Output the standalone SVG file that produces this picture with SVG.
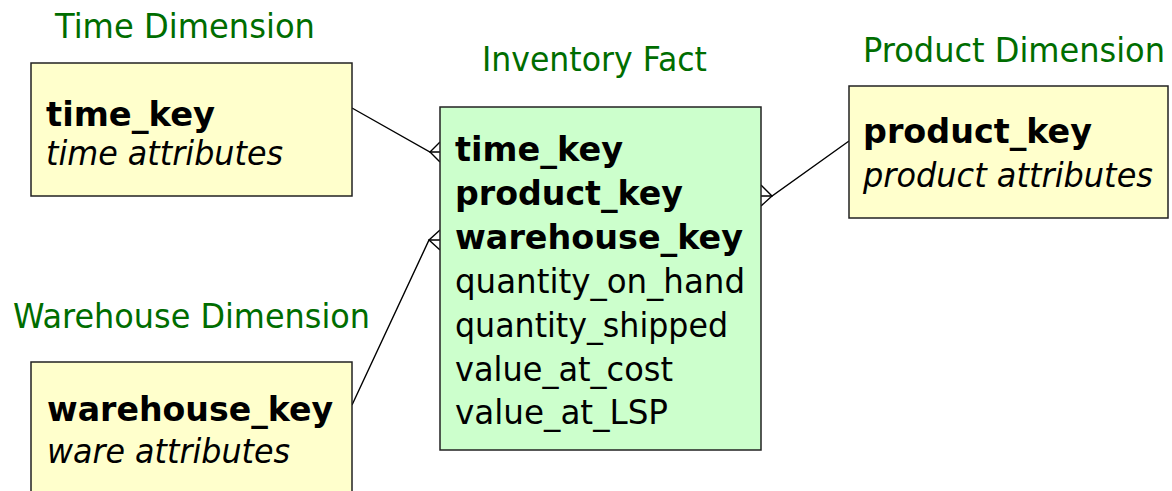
<svg xmlns="http://www.w3.org/2000/svg" width="1172" height="491" viewBox="0 0 1172 491">
<style>
.title{font-family:"DejaVu Sans",Verdana,sans-serif;font-size:33px;fill:#006d00}
.key{font-family:"DejaVu Sans",Verdana,sans-serif;font-size:33.5px;font-weight:bold;fill:#000}
.attr{font-family:"DejaVu Sans",Verdana,sans-serif;font-size:33.5px;font-style:italic;fill:#000}
.reg{font-family:"DejaVu Sans",Verdana,sans-serif;font-size:34px;fill:#000}
.dim{fill:#ffffcc;stroke:#222;stroke-width:1.5}
.fact{fill:#ccffcc;stroke:#222;stroke-width:1.5}
.conn{fill:none;stroke:#000;stroke-width:1.4}
</style>
<rect width="1172" height="491" fill="#fff"/>
<g id="connectors">
  <polyline class="conn" points="352,108 430,152 440,152"/>
  <polyline class="conn" points="440,142 430,152 440,162"/>
  <polyline class="conn" points="849,141 772,196 761,196"/>
  <polyline class="conn" points="761,185 772,196 761,206"/>
  <polyline class="conn" points="352,405 429,240 440,240"/>
  <polyline class="conn" points="440,230 429,240 440,250"/>
</g>
<g id="time-dimension">
  <text class="title" x="55" y="38" textLength="260" lengthAdjust="spacingAndGlyphs">Time Dimension</text>
  <rect class="dim" x="31" y="63" width="321" height="133"/>
  <text class="key" x="46" y="126" textLength="169" lengthAdjust="spacingAndGlyphs">time_key</text>
  <text class="attr" x="46" y="165" textLength="237" lengthAdjust="spacingAndGlyphs">time attributes</text>
</g>
<g id="inventory-fact">
  <text class="title" x="482" y="71" textLength="225" lengthAdjust="spacingAndGlyphs">Inventory Fact</text>
  <rect class="fact" x="440" y="107" width="321" height="343"/>
  <text class="key" x="455" y="161" textLength="168" lengthAdjust="spacingAndGlyphs">time_key</text>
  <text class="key" x="455" y="205" textLength="228" lengthAdjust="spacingAndGlyphs">product_key</text>
  <text class="key" x="455" y="249" textLength="288" lengthAdjust="spacingAndGlyphs">warehouse_key</text>
  <text class="reg" x="455" y="293" textLength="290" lengthAdjust="spacingAndGlyphs">quantity_on_hand</text>
  <text class="reg" x="455" y="337" textLength="273" lengthAdjust="spacingAndGlyphs">quantity_shipped</text>
  <text class="reg" x="455" y="381" textLength="218" lengthAdjust="spacingAndGlyphs">value_at_cost</text>
  <text class="reg" x="455" y="424" textLength="213" lengthAdjust="spacingAndGlyphs">value_at_LSP</text>
</g>
<g id="product-dimension">
  <text class="title" x="863" y="62" textLength="302" lengthAdjust="spacingAndGlyphs">Product Dimension</text>
  <rect class="dim" x="849" y="86" width="319" height="132"/>
  <text class="key" x="863" y="143" textLength="229" lengthAdjust="spacingAndGlyphs">product_key</text>
  <text class="attr" x="863" y="187" textLength="290" lengthAdjust="spacingAndGlyphs">product attributes</text>
</g>
<g id="warehouse-dimension">
  <text class="title" x="13" y="328" textLength="357" lengthAdjust="spacingAndGlyphs">Warehouse Dimension</text>
  <rect class="dim" x="31" y="362" width="321" height="140"/>
  <text class="key" x="47" y="421" textLength="286" lengthAdjust="spacingAndGlyphs">warehouse_key</text>
  <text class="attr" x="47" y="463" textLength="243" lengthAdjust="spacingAndGlyphs">ware attributes</text>
</g>
</svg>
